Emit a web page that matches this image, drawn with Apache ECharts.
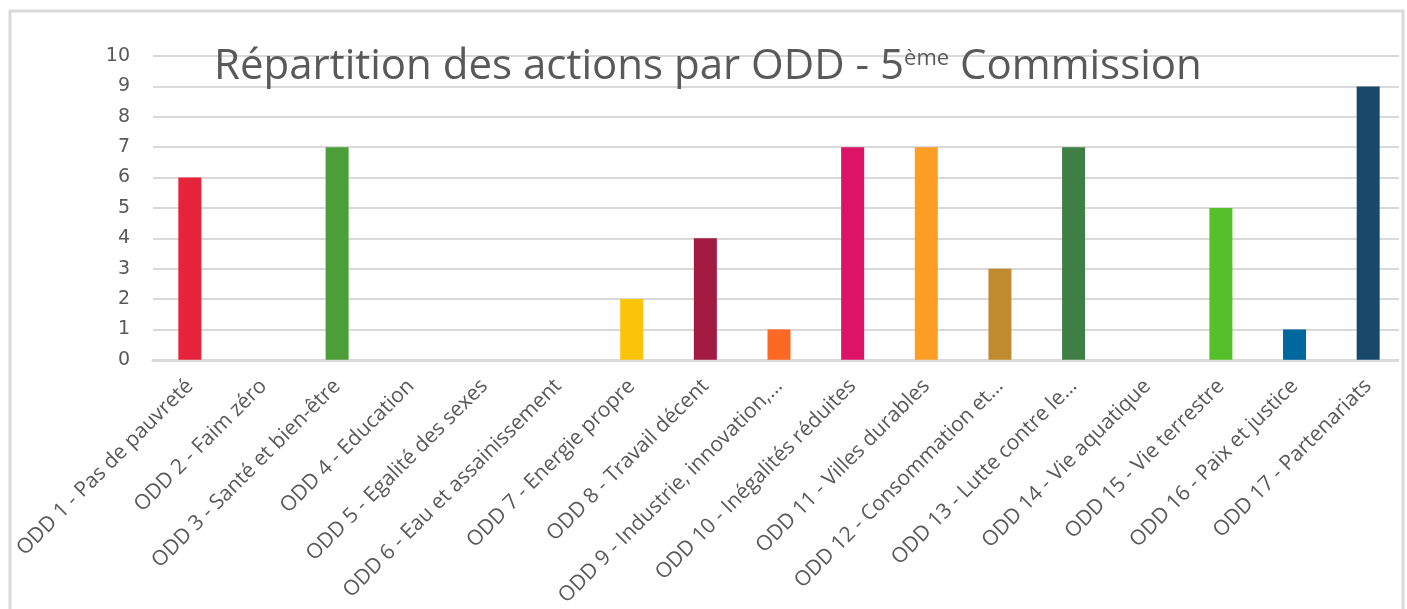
<!DOCTYPE html>
<html>
<head>
<meta charset="utf-8">
<script src="https://cdn.jsdelivr.net/npm/echarts@6/dist/echarts.min.js"></script>
<style>
html,body{margin:0;padding:0;background:#fff;}
#chart{width:1407px;height:609px;}
</style>
</head>
<body>
<div id="chart"></div>
<script>
// Objectifs de développement durable (ODD) – nombre d'actions par objectif
const categories = [
  'ODD 1 - Pas de pauvreté',
  'ODD 2 - Faim zéro',
  'ODD 3 - Santé et bien-être',
  'ODD 4 - Education',
  'ODD 5 - Egalité des sexes',
  'ODD 6 - Eau et assainissement',
  'ODD 7 - Energie propre',
  'ODD 8 - Travail décent',
  'ODD 9 - Industrie, innovation,…',
  'ODD 10 - Inégalités réduites',
  'ODD 11 - Villes durables',
  'ODD 12 - Consommation et…',
  'ODD 13 - Lutte contre le…',
  'ODD 14 - Vie aquatique',
  'ODD 15 - Vie terrestre',
  'ODD 16 - Paix et justice',
  'ODD 17 - Partenariats'
];
const actions = [6, 0, 7, 0, 0, 0, 2, 4, 1, 7, 7, 3, 7, 0, 5, 1, 9];
// Couleurs officielles des ODD
const sdgColors = [
  '#E5243B', '#DDA63A', '#4C9F38', '#C5192D', '#FF3A21', '#26BDE2',
  '#FCC30B', '#A21942', '#FD6925', '#DD1367', '#FD9D24', '#BF8B2E',
  '#3F7E44', '#0A97D9', '#56C02B', '#00689D', '#19486A'
];
const yTicks = [0, 1, 2, 3, 4, 5, 6, 7, 8, 9, 10];

const chart = echarts.init(document.getElementById('chart'), null, {renderer: 'canvas'});
chart.setOption({
  animation: false,
  backgroundColor: '#ffffff',
  title: {
    text: '{m|Répartition des actions par ODD - 5}{s|ème}{m| Commission}',
    left: 209,
    top: 38,
    textStyle: {
      rich: {
        m: {fontFamily: 'Open Sans', fontWeight: 'normal', fontSize: 42, color: '#595959', lineHeight: 48},
        s: {fontFamily: 'Open Sans', fontWeight: 'normal', fontSize: 22, color: '#595959', lineHeight: 48, verticalAlign: 'top', padding: [5, 0, 0, 0]}
      }
    }
  },
  grid: {left: 153, right: 2, top: 56, bottom: 243, containLabel: false},
  xAxis: {
    type: 'category',
    data: categories,
    axisLine: {lineStyle: {color: '#d9d9d9', width: 3}},
    axisTick: {show: false},
    axisLabel: {
      interval: 0,
      rotate: 45,
      margin: 23,
      fontFamily: 'Open Sans',
      fontSize: 21,
      color: '#595959'
    }
  },
  yAxis: {
    type: 'value',
    min: yTicks[0],
    max: yTicks[yTicks.length - 1],
    interval: 1,
    axisLine: {show: false},
    axisTick: {show: false},
    axisLabel: {margin: 23, fontFamily: 'DejaVu Sans', fontSize: 19, color: '#595959'},
    splitLine: {lineStyle: {color: '#d9d9d9', width: 2}}
  },
  series: [{
    type: 'bar',
    data: actions.map((v, i) => ({value: v, itemStyle: {color: sdgColors[i]}})),
    barWidth: 23
  }],
  graphic: [
    {type: 'rect', z: 100, shape: {x: 1399, y: 0, width: 8, height: 609}, style: {fill: '#ffffff'}},
    {type: 'rect', z: 101, shape: {x: 10, y: 11, width: 1393, height: 620}, style: {fill: 'none', stroke: '#d9d9d9', lineWidth: 3}}
  ]
});
</script>
</body>
</html>
